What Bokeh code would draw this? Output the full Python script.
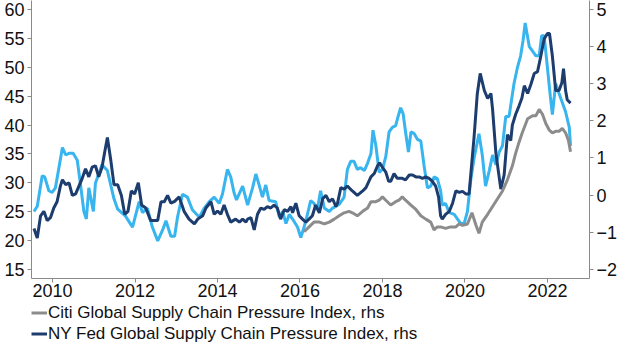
from bokeh.plotting import figure
from bokeh.layouts import column
from bokeh.models import Range1d, LinearAxis, FixedTicker, Legend, LegendItem
from bokeh.embed import file_html
from bokeh.resources import INLINE

# Light blue series (left axis)
lb_x = [2009.55, 2009.63, 2009.75, 2009.81, 2009.91, 2009.99, 2010.07, 2010.24, 2010.32, 2010.40,
        2010.50, 2010.60, 2010.68, 2010.76, 2010.82, 2010.88, 2010.99, 2011.04, 2011.20, 2011.33,
        2011.49, 2011.58, 2011.77, 2011.94, 2012.10, 2012.18, 2012.30, 2012.42, 2012.55, 2012.67,
        2012.75, 2012.87, 2012.96, 2013.03, 2013.15, 2013.27, 2013.39, 2013.56, 2013.68, 2013.80,
        2013.92, 2014.04, 2014.12, 2014.24, 2014.32, 2014.40, 2014.46, 2014.61, 2014.73, 2014.85,
        2014.93, 2015.01, 2015.09, 2015.17, 2015.25, 2015.41, 2015.50, 2015.58, 2015.66, 2015.74,
        2015.82, 2015.94, 2016.02, 2016.10, 2016.18, 2016.26, 2016.34, 2016.42, 2016.50, 2016.59,
        2016.71, 2016.79, 2016.87, 2016.96, 2017.07, 2017.15, 2017.23, 2017.31, 2017.39, 2017.47,
        2017.56, 2017.64, 2017.72, 2017.77, 2017.84, 2017.92, 2018.00, 2018.08, 2018.16, 2018.24,
        2018.32, 2018.36, 2018.44, 2018.50, 2018.56, 2018.63, 2018.69, 2018.77, 2018.85, 2018.93,
        2019.01, 2019.09, 2019.17, 2019.25, 2019.33, 2019.41, 2019.45, 2019.53, 2019.62, 2019.74,
        2019.82, 2019.90, 2019.98, 2020.06, 2020.14, 2020.22, 2020.34, 2020.42, 2020.50, 2020.59,
        2020.67, 2020.75, 2020.83, 2020.91, 2020.99, 2021.07, 2021.19, 2021.27, 2021.35, 2021.41,
        2021.46, 2021.56, 2021.64, 2021.72, 2021.80, 2021.86, 2021.92, 2022.00, 2022.07, 2022.12,
        2022.20, 2022.28, 2022.36, 2022.44, 2022.53, 2022.56]
lb_y = [25.0, 25.9, 31.2, 31.0, 28.6, 28.3, 29.1, 36.1, 34.8, 35.1,
        35.1, 33.9, 29.6, 25.0, 23.7, 29.1, 25.0, 29.9, 33.1, 32.1,
        27.2, 25.4, 24.2, 22.3, 26.7, 24.8, 25.6, 22.3, 19.9, 21.8,
        23.4, 20.7, 20.7, 24.0, 28.0, 27.5, 25.3, 24.0, 25.6, 26.7,
        27.5, 26.4, 28.0, 32.3, 31.0, 28.3, 27.0, 29.4, 26.1, 29.1,
        31.5, 29.6, 27.5, 29.6, 26.9, 26.7, 24.0, 25.0, 22.9, 24.5,
        23.7, 22.3, 20.5, 22.3, 24.5, 26.9, 26.4, 25.3, 28.6, 25.6,
        25.0, 25.6, 25.9, 26.3, 27.5, 32.3, 33.7, 33.7, 32.3, 32.6,
        32.1, 33.4, 35.0, 39.1, 36.4, 31.8, 32.3, 34.5, 38.8, 39.6,
        39.9, 41.0, 43.0, 42.0, 38.8, 35.3, 38.8, 38.5, 37.5, 37.2,
        32.9, 29.1, 29.4, 31.0, 30.7, 28.6, 26.1, 26.4, 24.8, 24.5,
        23.7, 22.9, 22.9, 25.0, 30.4, 34.2, 38.5, 34.8, 29.4, 32.1,
        34.8, 33.1, 35.3, 36.4, 41.5, 41.5, 47.2, 49.9, 52.0, 54.7,
        57.7, 53.6, 52.8, 52.0, 52.0, 55.5, 55.5, 49.9, 45.0, 41.8,
        47.2, 45.5, 43.9, 42.3, 39.6, 36.4]

# NY Fed Global Supply Chain Pressure Index (right axis)
nyf_x = [2009.55, 2009.63, 2009.71, 2009.79, 2009.87, 2009.95, 2010.03, 2010.11, 2010.19, 2010.24,
         2010.32, 2010.40, 2010.48, 2010.56, 2010.64, 2010.72, 2010.80, 2010.88, 2010.96, 2011.04,
         2011.12, 2011.20, 2011.26, 2011.33, 2011.41, 2011.49, 2011.58, 2011.67, 2011.75, 2011.83,
         2011.91, 2011.99, 2012.08, 2012.16, 2012.26, 2012.38, 2012.55, 2012.63, 2012.71, 2012.79,
         2012.87, 2012.96, 2013.07, 2013.19, 2013.31, 2013.44, 2013.52, 2013.64, 2013.72, 2013.84,
         2013.92, 2014.00, 2014.08, 2014.16, 2014.24, 2014.32, 2014.44, 2014.53, 2014.61, 2014.69,
         2014.73, 2014.81, 2014.89, 2014.97, 2015.05, 2015.13, 2015.21, 2015.29, 2015.37, 2015.45,
         2015.53, 2015.62, 2015.70, 2015.78, 2015.82, 2015.90, 2015.98, 2016.06, 2016.14, 2016.22,
         2016.30, 2016.38, 2016.47, 2016.55, 2016.63, 2016.71, 2016.79, 2016.87, 2016.91, 2016.99,
         2017.07, 2017.15, 2017.27, 2017.39, 2017.52, 2017.60, 2017.72, 2017.80, 2017.88, 2017.93,
         2018.00, 2018.08, 2018.15, 2018.20, 2018.28, 2018.36, 2018.48, 2018.56, 2018.65, 2018.73,
         2018.81, 2018.89, 2018.97, 2019.05, 2019.13, 2019.21, 2019.29, 2019.36, 2019.41, 2019.45,
         2019.53, 2019.62, 2019.70, 2019.78, 2019.86, 2019.94, 2020.02, 2020.10, 2020.22, 2020.30,
         2020.37, 2020.47, 2020.55, 2020.63, 2020.67, 2020.75, 2020.87, 2020.95, 2021.03, 2021.11,
         2021.15, 2021.23, 2021.31, 2021.38, 2021.44, 2021.52, 2021.60, 2021.68, 2021.76, 2021.84,
         2021.92, 2022.00, 2022.05, 2022.12, 2022.20, 2022.28, 2022.35, 2022.39, 2022.44, 2022.48,
         2022.56]
nyf_y = [-0.90, -1.16, -0.56, -0.44, -0.69, -0.61, -0.35, -0.18, 0.24, 0.41,
         0.28, 0.33, -0.01, 0.03, 0.24, 0.45, 0.71, 0.49, 0.75, 0.79,
         0.49, 0.75, 1.13, 1.55, 0.96, 0.28, 0.28, -0.01, -0.52, -0.44,
         0.11, 0.03, 0.33, -0.27, -0.35, -0.69, -0.69, -0.18, -0.18, -0.01,
         -0.22, -0.17, -0.05, -0.44, -0.65, -0.78, -0.65, -0.56, -0.35, -0.18,
         -0.52, -0.43, -0.52, -0.27, -0.52, -0.73, -0.65, -0.73, -0.65, -0.73,
         -0.65, -0.61, -0.94, -0.52, -0.35, -0.39, -0.31, -0.35, -0.27, -0.35,
         -0.65, -0.39, -0.44, -0.31, -0.48, -0.22, -0.56, -0.65, -0.73, -0.65,
         -0.56, -0.27, -0.48, -0.10, -0.01, -0.18, -0.10, -0.31, -0.22, 0.20,
         0.16, 0.24, 0.11, -0.01, 0.11, 0.20, 0.49, 0.58, 0.79, 0.87,
         0.75, 0.62, 0.37, 0.37, 0.58, 0.45, 0.45, 0.41, 0.54, 0.54,
         0.49, 0.49, 0.45, 0.49, 0.45, 0.37, 0.24, -0.05, -0.56, -0.65,
         -0.52, -0.44, -0.22, 0.11, 0.07, 0.10, 0.03, 0.03, 1.55, 2.74,
         3.28, 2.82, 2.61, 2.74, 2.31, 1.13, 0.16, 0.54, 1.63, 1.47,
         1.89, 2.18, 2.40, 2.61, 2.95, 2.74, 2.99, 3.28, 3.33, 3.75,
         4.21, 4.36, 4.36, 3.75, 2.82, 2.82, 3.03, 3.41, 2.82, 2.57,
         2.48]

# Citi Global Supply Chain Pressure Index (right axis)
citi_x = [2016.10, 2016.22, 2016.34, 2016.47, 2016.59, 2016.71, 2016.83, 2016.95, 2017.07, 2017.19,
          2017.27, 2017.39, 2017.52, 2017.64, 2017.72, 2017.84, 2017.92, 2018.00, 2018.08, 2018.20,
          2018.32, 2018.40, 2018.48, 2018.56, 2018.69, 2018.81, 2018.93, 2019.05, 2019.17, 2019.25,
          2019.33, 2019.41, 2019.53, 2019.65, 2019.78, 2019.86, 2019.94, 2020.06, 2020.17, 2020.27,
          2020.34, 2020.42, 2020.55, 2020.67, 2020.79, 2020.91, 2021.03, 2021.15, 2021.23, 2021.31,
          2021.39, 2021.52, 2021.64, 2021.72, 2021.80, 2021.88, 2021.96, 2022.04, 2022.12, 2022.20,
          2022.28, 2022.36, 2022.44, 2022.51, 2022.56]
citi_y = [-0.99, -0.86, -0.73, -0.73, -0.78, -0.73, -0.65, -0.56, -0.48, -0.44,
          -0.48, -0.56, -0.44, -0.35, -0.18, -0.18, -0.14, -0.05, -0.14, -0.27,
          -0.18, -0.14, -0.05, -0.14, -0.27, -0.39, -0.56, -0.65, -0.73, -0.94,
          -0.86, -0.86, -0.90, -0.86, -0.86, -0.78, -0.82, -0.78, -0.48, -0.82,
          -1.03, -0.73, -0.52, -0.31, -0.10, 0.11, 0.41, 0.79, 1.13, 1.42,
          1.68, 2.06, 2.14, 2.14, 2.31, 2.18, 1.93, 1.76, 1.68, 1.72,
          1.72, 1.80, 1.68, 1.47, 1.17]

x_ticks = [2010, 2012, 2014, 2016, 2018, 2020, 2022]
left_ticks = [15, 20, 25, 30, 35, 40, 45, 50, 55, 60]
right_ticks = [-2, -1, 0, 1, 2, 3, 4, 5]

legend_labels = ["Citi Global Supply Chain Pressure Index, rhs",
                 "NY Fed Global Supply Chain Pressure Index, rhs"]

LIGHT = "#38b4ee"
NAVY = "#1c3d6e"
GRAY = "#8c8c8c"
AXIS = "#8a8a8a"
FONT = "Liberation Sans"

L_MIN, L_MAX = 13.38, 61.6
R_MIN = -2 + (L_MIN - 15) * 7 / 45
R_MAX = -2 + (L_MAX - 15) * 7 / 45

p = figure(width=624, height=302, output_backend="svg", toolbar_location=None,
           x_range=Range1d(2009.49, 2023.02), y_range=Range1d(L_MIN, L_MAX),
           min_border_left=31, min_border_right=35, min_border_top=0, min_border_bottom=24)
p.extra_y_ranges = {"r": Range1d(R_MIN, R_MAX)}
p.outline_line_color = None
p.xgrid.visible = False
p.ygrid.visible = False

p.line(lb_x, lb_y, line_color=LIGHT, line_width=3)
p.line(nyf_x, nyf_y, line_color=NAVY, line_width=3, y_range_name="r")
p.line(citi_x, citi_y, line_color=GRAY, line_width=3, y_range_name="r")

raxis = LinearAxis(y_range_name="r")
p.add_layout(raxis, "right")

for ax in [p.xaxis[0], p.yaxis[0], raxis]:
    ax.axis_line_color = AXIS
    ax.axis_line_width = 1
    ax.major_tick_line_color = AXIS
    ax.major_tick_out = 4
    ax.major_tick_in = 0
    ax.minor_tick_line_color = None
    ax.major_label_text_font = FONT
    ax.major_label_text_font_size = "18px"
    ax.major_label_text_color = "#111111"
    ax.major_label_standoff = 3

p.xaxis[0].major_label_standoff = 1
p.xaxis[0].ticker = FixedTicker(ticks=x_ticks)
p.xaxis[0].major_label_overrides = {t: str(t) for t in x_ticks}
p.yaxis[0].ticker = FixedTicker(ticks=left_ticks)
raxis.ticker = FixedTicker(ticks=right_ticks)

# Legend strip below the chart (series drawn off-view, only their legend glyphs show)
lg = figure(width=624, height=42, output_backend="svg", toolbar_location=None,
            x_range=Range1d(0, 1), y_range=Range1d(0, 1), min_border=0,
            min_border_left=0, min_border_right=0, min_border_top=0, min_border_bottom=0,
            x_axis_location=None, y_axis_location=None)
lg.grid.visible = False
lg.outline_line_color = None
g_citi = lg.line(citi_x, citi_y, line_color=GRAY, line_width=3)
g_nyf = lg.line(nyf_x, nyf_y, line_color=NAVY, line_width=3)
legend = Legend(items=[LegendItem(label=legend_labels[0], renderers=[g_citi]),
                       LegendItem(label=legend_labels[1], renderers=[g_nyf])],
                location=(0, 0), orientation="vertical",
                label_text_font=FONT, label_text_font_size="17px", label_text_color="#111111",
                glyph_width=16, glyph_height=21, label_height=21, label_standoff=1,
                spacing=0, padding=0, margin=0, border_line_color=None,
                background_fill_alpha=0)
lg.add_layout(legend, "center")

layout = column(p, lg, spacing=0)
open("out.html", "w").write(file_html(layout, INLINE))
